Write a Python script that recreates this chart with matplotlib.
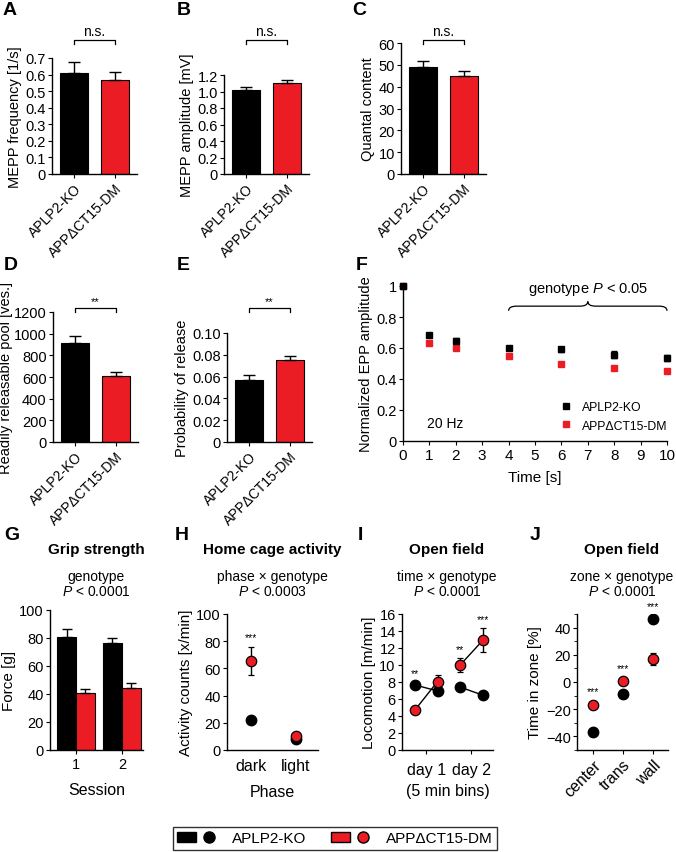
import matplotlib
matplotlib.use("Agg")
import matplotlib.pyplot as plt
import numpy as np
import matplotlib.transforms as mtransforms
from matplotlib.patches import Patch, PathPatch
from matplotlib.lines import Line2D
from matplotlib.path import Path
from matplotlib.legend_handler import HandlerTuple

plt.rcParams['font.family'] = ['Liberation Sans', 'DejaVu Sans']
plt.rcParams['mathtext.fontset'] = 'custom'
plt.rcParams['mathtext.it'] = 'Liberation Sans:italic'
plt.rcParams['mathtext.rm'] = 'Liberation Sans'
plt.rcParams['font.size'] = 10
plt.rcParams['axes.linewidth'] = 1.0
plt.rcParams['xtick.major.size'] = 3
plt.rcParams['ytick.major.size'] = 3
plt.rcParams['xtick.major.pad'] = 1.8
plt.rcParams['ytick.major.pad'] = 1.5
plt.rcParams['axes.labelpad'] = 2.5

# ---- data ----
genotypes = ["APLP2-KO", "APP\u0394CT15-DM"]

mepp_freq = [0.61, 0.565]
mepp_freq_err = [0.065, 0.05]
mepp_amp = [1.015, 1.105]
mepp_amp_err = [0.04, 0.035]
quantal = [49.0, 44.7]
quantal_err = [2.7, 2.5]
rrp = [910, 610]
rrp_err = [70, 35]
p_release = [0.057, 0.0755]
p_release_err = [0.0045, 0.003]

time_s = [0, 1, 2, 4, 6, 8, 10]
epp_ko = [1.0, 0.685, 0.648, 0.600, 0.592, 0.556, 0.537]
epp_ko_err = [0.0, 0.012, 0.014, 0.015, 0.015, 0.022, 0.018]
epp_dm = [1.0, 0.630, 0.603, 0.550, 0.497, 0.473, 0.452]
epp_dm_err = [0.0, 0.008, 0.008, 0.008, 0.008, 0.010, 0.010]

sessions = [1, 2]
grip_ko = [81.0, 76.5]
grip_ko_err = [5.7, 3.5]
grip_dm = [40.5, 44.2]
grip_dm_err = [3.0, 3.6]

phases = ["dark", "light"]
home_ko = [22.3, 8.0]
home_ko_err = [1.2, 0.8]
home_dm = [65.2, 10.5]
home_dm_err = [10.2, 1.2]

days = ["day 1", "day 2"]
bins = [1, 2, 3, 4]
loco_ko = [7.65, 6.95, 7.4, 6.45]
loco_ko_err = [0.3, 0.3, 0.3, 0.3]
loco_dm = [4.7, 8.05, 10.0, 12.9]
loco_dm_err = [0.4, 0.8, 0.85, 1.4]
loco_stars = ["**", "", "**", "***"]

zones = ["center", "trans", "wall"]
zone_ko = [-37.0, -9.0, 46.3]
zone_ko_err = [1.5, 1.5, 1.5]
zone_dm = [-17.2, 0.7, 16.7]
zone_dm_err = [2.5, 2.0, 4.3]
zone_stars = ["***", "***", "***"]

RED = "#ec1c24"
W, H = 676, 853
fig = plt.figure(figsize=(W / 100, H / 100), dpi=100)


def add_ax(x0, x1, y0, y1):
    """axes from pixel box"""
    ax = fig.add_axes([x0 / W, 1 - y1 / H, (x1 - x0) / W, (y1 - y0) / H])
    ax.spines['top'].set_visible(False)
    ax.spines['right'].set_visible(False)
    ax.tick_params(direction='out', labelsize=10.5)
    return ax


def letter(txt, x, y):
    fig.text(x / W, 1 - y / H, txt, fontsize=14, fontweight='bold', va='top', ha='left')


def ftext(txt, x, y, **kw):
    fig.text(x / W, 1 - y / H, txt, ha='center', va='center', **kw)


def fmt_labels(ax, ticks, fmt):
    ax.set_yticks(ticks)
    ax.set_yticklabels(['0' if t == 0 else fmt % t for t in ticks])


def bar_panel(ax, vals, errs, top, ticks, fmt, ylabel, sig, sig_y):
    x = np.arange(len(vals))
    ax.bar(x, vals, width=0.7, color=['black', RED], edgecolor='black', linewidth=0.8)
    ax.errorbar(x, vals, yerr=[np.zeros(len(errs)), errs], fmt='none',
                ecolor='black', elinewidth=1, capsize=4.5, capthick=1)
    ax.set_xlim(-0.55, 1.55)
    ax.set_ylim(0, top)
    fmt_labels(ax, ticks, fmt)
    ax.set_xticks(x)
    ax.set_xticklabels(genotypes, rotation=45, ha='right', rotation_mode='anchor', fontsize=10)
    ax.set_ylabel(ylabel, fontsize=10.5)
    # significance bracket (y in figure pixels)
    tr = mtransforms.blended_transform_factory(ax.transData, fig.transFigure)
    yb = 1 - sig_y / H
    dy = 3.5 / H
    ax.plot([x[0], x[0], x[1], x[1]], [yb - dy, yb, yb, yb - dy], transform=tr,
            color='black', lw=0.9, clip_on=False)
    ax.text(np.mean(x), yb + 2 / H, sig, transform=tr, ha='center', va='bottom',
            fontsize=10 if sig == 'n.s.' else 8)


# ---- row 1 ----
axA = add_ax(52, 137, 59, 175)
bar_panel(axA, mepp_freq, mepp_freq_err, 0.7, np.arange(0, 0.71, 0.1), '%.1f',
          'MEPP frequency [1/s]', 'n.s.', 41)
axB = add_ax(224, 309, 76, 175)
bar_panel(axB, mepp_amp, mepp_amp_err, 1.2, np.arange(0, 1.21, 0.2), '%.1f',
          'MEPP amplitude [mV]', 'n.s.', 41)
axC = add_ax(401, 486, 44, 175)
bar_panel(axC, quantal, quantal_err, 60, np.arange(0, 61, 10), '%d',
          'Quantal content', 'n.s.', 41)
letter('A', 3, 2)
letter('B', 177, 2)
letter('C', 352, 2)

# ---- row 2 ----
axD = add_ax(53, 138, 313, 443)
bar_panel(axD, rrp, rrp_err, 1200, np.arange(0, 1201, 200), '%d',
          'Readily releasable pool [ves.]', '**', 309)
axD.yaxis.set_label_coords(-0.47, 0.5)
axE = add_ax(227, 312, 334, 443)
bar_panel(axE, p_release, p_release_err, 0.10, np.arange(0, 0.101, 0.02), '%.2f',
          'Probability of release', '**', 309)
letter('D', 4, 257)
letter('E', 177, 257)

axF = add_ax(403, 667, 287, 442)
axF.errorbar(time_s, epp_dm, yerr=epp_dm_err, fmt='s', color=RED, ms=4.5,
             mec=RED, elinewidth=1, capsize=0, clip_on=False)
axF.errorbar(time_s, epp_ko, yerr=epp_ko_err, fmt='s', color='black', ms=4.5,
             elinewidth=1, capsize=2, clip_on=False)
axF.set_xlim(0, 10)
axF.set_ylim(0, 1)
axF.set_xticks(np.arange(0, 11, 1))
axF.tick_params(axis='x', labelsize=11)
axF.set_yticks(np.arange(0, 1.01, 0.2))
axF.set_yticklabels(['0', '0.2', '0.4', '0.6', '0.8', '1'])
axF.set_xlabel('Time [s]', fontsize=11, labelpad=6)
axF.set_ylabel('Normalized EPP amplitude', fontsize=10.5)
legF_handles = [Line2D([], [], marker='s', ls='none', ms=4.5, color='black'),
                Line2D([], [], marker='s', ls='none', ms=4.5, color=RED)]
axF.legend(legF_handles, genotypes, loc='lower left', bbox_to_anchor=(0.6, 0.06),
           frameon=False, fontsize=8.8, handlelength=0.8, handletextpad=0.9,
           labelspacing=0.55, borderpad=0, borderaxespad=0)
axF.text(1.6, 0.115, '20 Hz', ha='center', va='center', fontsize=10)
# curly brace over time points 4..10
bx0, bx1 = time_s[3], time_s[-1]
bxm = (bx0 + bx1) / 2
by, bh, bd = 0.84, 0.06, 0.3
verts = [(bx0, by), (bx0, by + bh / 2), (bx0 + bd, by + bh / 2),
         (bxm - bd, by + bh / 2), (bxm, by + bh / 2), (bxm, by + bh),
         (bxm, by + bh / 2), (bxm + bd, by + bh / 2),
         (bx1 - bd, by + bh / 2), (bx1, by + bh / 2), (bx1, by)]
codes = [Path.MOVETO, Path.CURVE3, Path.CURVE3, Path.LINETO, Path.CURVE3, Path.CURVE3,
         Path.CURVE3, Path.CURVE3, Path.LINETO, Path.CURVE3, Path.CURVE3]
axF.add_patch(PathPatch(Path(verts, codes), fill=False, lw=0.9, clip_on=False))
axF.text(bxm, 0.985, r'genotype $\it{P}$ < 0.05', ha='center', va='center', fontsize=10.5)
letter('F', 356, 257)

# ---- row 3 ----
axG = add_ax(50, 143, 611, 751)
w = 0.41
axG.bar(np.array(sessions) - w / 2, grip_ko, width=w, color='black', edgecolor='black', lw=0.8)
axG.bar(np.array(sessions) + w / 2, grip_dm, width=w, color=RED, edgecolor='black', lw=0.8)
axG.errorbar(np.array(sessions) - w / 2, grip_ko, yerr=[np.zeros(2), grip_ko_err], fmt='none',
             ecolor='black', elinewidth=1, capsize=3.5)
axG.errorbar(np.array(sessions) + w / 2, grip_dm, yerr=[np.zeros(2), grip_dm_err], fmt='none',
             ecolor='black', elinewidth=1, capsize=3.5)
axG.set_xlim(0.435, 2.46)
axG.set_ylim(0, 100)
axG.set_yticks(np.arange(0, 101, 20))
axG.set_xticks(sessions)
axG.set_ylabel('Force [g]', fontsize=11)
axG.set_xlabel('Session', fontsize=11.5, labelpad=8)


def dot_panel(ax, xs, ko, ko_err, dm, dm_err, segments=None):
    if segments is None:
        segments = [list(range(len(xs)))]
    for seg in segments:
        ax.plot([xs[i] for i in seg], [ko[i] for i in seg], color='black', lw=1, zorder=2)
        ax.plot([xs[i] for i in seg], [dm[i] for i in seg], color='black', lw=1, zorder=2)
    ax.errorbar(xs, ko, yerr=ko_err, fmt='o', ms=7.5, mfc='black', mec='black',
                ecolor='black', elinewidth=1, capsize=2.5, zorder=3)
    ax.errorbar(xs, dm, yerr=dm_err, fmt='o', ms=7.5, mfc=RED, mec='black', mew=0.9,
                ecolor='black', elinewidth=1, capsize=2.5, zorder=4)


axH = add_ax(227, 318, 615, 751)
hx = [1, 2]
dot_panel(axH, hx, home_ko, home_ko_err, home_dm, home_dm_err, segments=[])
axH.annotate('***', (hx[0], home_dm[0] + home_dm_err[0]), xytext=(0, 4),
             textcoords='offset points', ha='center', va='bottom', fontsize=7.5)
axH.set_xlim(0.47, 2.49)
axH.set_ylim(0, 100)
axH.set_yticks(np.arange(0, 101, 20))
axH.set_xticks(hx)
axH.set_xticklabels(phases, fontsize=11.5)
axH.tick_params(axis='x', length=0, pad=6)
axH.set_ylabel('Activity counts [x/min]', fontsize=11)
axH.set_xlabel('Phase', fontsize=11.5, labelpad=8)

axI = add_ax(402, 493, 615, 751)
dot_panel(axI, bins, loco_ko, loco_ko_err, loco_dm, loco_dm_err, segments=[[0, 1], [2, 3]])
for i, s in enumerate(loco_stars):
    if s:
        ytop = max(loco_ko[i] + loco_ko_err[i], loco_dm[i] + loco_dm_err[i])
        axI.annotate(s, (bins[i], ytop), xytext=(0, 3), textcoords='offset points',
                     ha='center', va='bottom', fontsize=7.5)
axI.set_xlim(0.43, 4.45)
axI.set_ylim(0, 16)
axI.set_yticks(np.arange(0, 17, 2))
axI.set_xticks([1.5, 3.5])
axI.set_xticklabels(days, fontsize=11.5)
axI.tick_params(axis='x', pad=6)
axI.set_ylabel('Locomotion [m/min]', fontsize=11)
axI.set_xlabel('(5 min bins)', fontsize=11.5, labelpad=4)

axJ = add_ax(577, 668, 615, 751)
jx = [1, 2, 3]
dot_panel(axJ, jx, zone_ko, zone_ko_err, zone_dm, zone_dm_err, segments=[])
for i, s in enumerate(zone_stars):
    ytop = max(zone_ko[i] + zone_ko_err[i], zone_dm[i] + zone_dm_err[i])
    axJ.annotate(s, (jx[i], ytop), xytext=(0, 4), textcoords='offset points',
                 ha='center', va='bottom', fontsize=7.5)
axJ.set_xlim(0.47, 3.5)
axJ.set_ylim(-50, 50)
axJ.set_yticks(np.arange(-40, 41, 20))
axJ.set_yticks(np.arange(-50, 51, 10), minor=True)
axJ.tick_params(axis='y', which='minor', length=2.5)
axJ.set_xticks(jx)
axJ.set_xticklabels(zones, rotation=45, ha='right', rotation_mode='anchor', fontsize=11.5)
axJ.set_ylabel('Time in zone [%]', fontsize=11)

for x, title, stat in [(96, 'Grip strength', 'genotype'),
                       (272, 'Home cage activity', 'phase \u00d7 genotype'),
                       (447, 'Open field', 'time \u00d7 genotype'),
                       (622, 'Open field', 'zone \u00d7 genotype')]:
    ftext(title, x, 550, fontsize=11, fontweight='bold')
    ftext(stat, x, 577, fontsize=10)
    p = '0.0003' if title == 'Home cage activity' else '0.0001'
    ftext(r'$\it{P}$ < ' + p, x, 592, fontsize=10)

letter('G', 4, 527)
letter('H', 175, 527)
letter('I', 358, 527)
letter('J', 530, 527)

# ---- shared legend ----
handles = [(Patch(facecolor='black', edgecolor='black'),
            Line2D([], [], marker='o', ls='none', ms=8, mfc='black', mec='black')),
           (Patch(facecolor=RED, edgecolor='black'),
            Line2D([], [], marker='o', ls='none', ms=8, mfc=RED, mec='black'))]
leg = fig.legend(handles, genotypes, handler_map={tuple: HandlerTuple(ndivide=None, pad=0.2)},
                 ncol=2, loc='center', bbox_to_anchor=(335 / W, 1 - 839.5 / H),
                 frameon=True, fancybox=False, edgecolor='black', fontsize=11,
                 handlelength=2.7, handleheight=0.6, columnspacing=1.6, handletextpad=0.9,
                 borderpad=0.3, borderaxespad=0)
leg.get_frame().set_linewidth(1.0)

fig.savefig('out.png', dpi=100)
